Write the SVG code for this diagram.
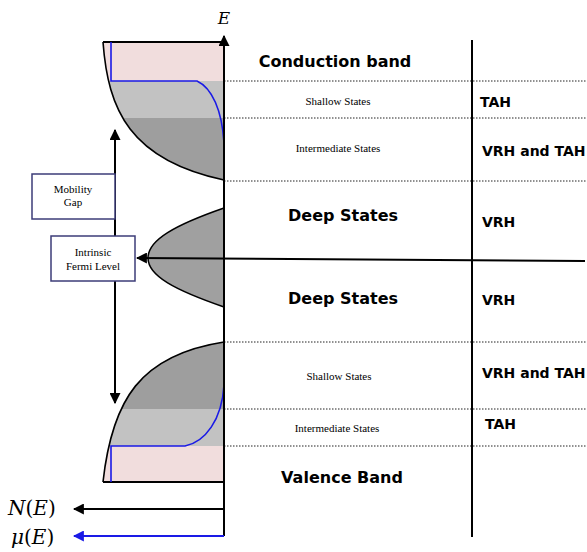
<svg xmlns="http://www.w3.org/2000/svg" width="587" height="552" viewBox="0 0 587 552">
<style>
.bold{font-family:"DejaVu Sans",Verdana,sans-serif;font-weight:bold;fill:#000}
.serif{font-family:"Liberation Serif","Times New Roman",serif;font-size:11px;fill:#000}
.math{font-family:"DejaVu Serif","Liberation Serif",serif;font-style:italic;fill:#000}
.dot{stroke:#222;stroke-width:1;stroke-dasharray:1.5 1.5;fill:none}
.box{fill:#fff;stroke:#3c3c78;stroke-width:1.5}
.curve{fill:none;stroke:#000;stroke-width:1.6}
.blue{fill:none;stroke:#1a1ae6;stroke-width:1.6}
</style>
<defs>
<clipPath id="cu"><path d="M103,42 C108,110 130,160 224,180 L224,42 Z"/></clipPath>
<clipPath id="cl"><path d="M224,342 C140,355 112,400 103,482 L224,482 Z"/></clipPath>
<marker id="ah" viewBox="0 0 10 10" refX="9" refY="5" markerWidth="5.5" markerHeight="5.5" orient="auto-start-reverse"><path d="M0,0 L10,5 L0,10 Z" fill="#000"/></marker>
<marker id="ahb" viewBox="0 0 10 10" refX="9" refY="5" markerWidth="5.5" markerHeight="5.5" orient="auto-start-reverse"><path d="M0,0 L10,5 L0,10 Z" fill="#1a1ae6"/></marker>
</defs>
<rect width="587" height="552" fill="#fff"/>

<g id="conduction-band-dos">
<g clip-path="url(#cu)">
<rect x="100" y="40" width="126" height="41" fill="#f1dddd"/>
<rect x="100" y="81" width="126" height="37" fill="#c2c2c2"/>
<rect x="100" y="118" width="126" height="64" fill="#9e9e9e"/>
</g>
<path class="curve" d="M103,42 C108,110 130,160 224,180"/>
<line x1="103" y1="42" x2="224" y2="42" stroke="#000" stroke-width="2"/>
<path class="blue" d="M111,42 L111,81 L197,81 C212,88 222,110 224,143"/>
</g>

<g id="deep-states-dos">
<path d="M224,208 C175,225 148,240 148,258 C148,276 175,290 224,307 Z" fill="#a0a0a0" stroke="#000" stroke-width="1.5"/>
</g>

<g id="valence-band-dos">
<g clip-path="url(#cl)">
<rect x="100" y="340" width="126" height="69" fill="#9e9e9e"/>
<rect x="100" y="409" width="126" height="37" fill="#c2c2c2"/>
<rect x="100" y="446" width="126" height="37" fill="#f1dddd"/>
</g>
<path class="curve" d="M224,342 C140,355 112,400 103,482"/>
<line x1="103" y1="482" x2="224" y2="482" stroke="#000" stroke-width="2"/>
<path class="blue" d="M111,482 L111,446 L185,446 C205,442 222,420 224,385"/>
</g>

<g id="connectors">
<g class="dot">
<line x1="224" y1="81" x2="587" y2="81"/>
<line x1="224" y1="118" x2="587" y2="118"/>
<line x1="224" y1="181" x2="587" y2="181"/>
<line x1="224" y1="342" x2="587" y2="342"/>
<line x1="224" y1="409" x2="587" y2="409"/>
<line x1="224" y1="446" x2="587" y2="446"/>
</g>
<line x1="472" y1="40" x2="472" y2="537" stroke="#000" stroke-width="2"/>
<line x1="224" y1="536" x2="224" y2="36" stroke="#000" stroke-width="2" marker-end="url(#ah)"/>
<line x1="115" y1="266" x2="115" y2="130" stroke="#000" stroke-width="2" marker-end="url(#ah)"/>
<line x1="115" y1="266" x2="115" y2="403" stroke="#000" stroke-width="2" marker-end="url(#ah)"/>
<line x1="585" y1="261" x2="137" y2="258" stroke="#000" stroke-width="2" marker-end="url(#ah)"/>
<line x1="224" y1="509" x2="74" y2="509" stroke="#000" stroke-width="2" marker-end="url(#ah)"/>
<line x1="224" y1="536" x2="74" y2="536" stroke="#1a1ae6" stroke-width="2" marker-end="url(#ahb)"/>
</g>

<g id="mobility-gap">
<rect class="box" x="32" y="174" width="83" height="45"/>
<text class="serif" x="73" y="193" text-anchor="middle" font-size="11.5">Mobility</text>
<text class="serif" x="73" y="206" text-anchor="middle" font-size="11.5">Gap</text>
</g>
<g id="intrinsic-fermi-level">
<rect class="box" x="51" y="236" width="84" height="45"/>
<text class="serif" x="93" y="256" text-anchor="middle" font-size="11.5">Intrinsic</text>
<text class="serif" x="93" y="270" text-anchor="middle" font-size="11.5">Fermi Level</text>
</g>

<g id="labels">
<text class="math" x="224" y="24" text-anchor="middle" font-size="17">E</text>
<text class="math" x="8" y="515" font-size="20">N<tspan font-style="normal">(</tspan>E<tspan font-style="normal">)</tspan></text>
<text class="math" x="11" y="544" font-size="20">μ<tspan font-style="normal">(</tspan>E<tspan font-style="normal">)</tspan></text>
</g>

<g id="conduction-band"><text class="bold" x="335" y="67" text-anchor="middle" font-size="16">Conduction band</text></g>
<g id="shallow-states-upper"><text class="serif" x="338" y="105" text-anchor="middle">Shallow States</text></g>
<g id="intermediate-states-upper"><text class="serif" x="338" y="152" text-anchor="middle">Intermediate States</text></g>
<g id="deep-states-upper"><text class="bold" x="343" y="221" text-anchor="middle" font-size="16">Deep States</text></g>
<g id="deep-states-lower"><text class="bold" x="343" y="304" text-anchor="middle" font-size="16">Deep States</text></g>
<g id="shallow-states-lower"><text class="serif" x="339" y="380" text-anchor="middle">Shallow States</text></g>
<g id="intermediate-states-lower"><text class="serif" x="337" y="432" text-anchor="middle">Intermediate States</text></g>
<g id="valence-band"><text class="bold" x="342" y="483" text-anchor="middle" font-size="16">Valence Band</text></g>

<g id="mechanisms">
<text class="bold" x="480" y="107" font-size="14">TAH</text>
<text class="bold" x="482" y="156" font-size="14">VRH and TAH</text>
<text class="bold" x="482" y="227" font-size="14">VRH</text>
<text class="bold" x="482" y="305" font-size="14">VRH</text>
<text class="bold" x="482" y="378" font-size="14">VRH and TAH</text>
<text class="bold" x="485" y="429" font-size="14">TAH</text>
</g>
</svg>
